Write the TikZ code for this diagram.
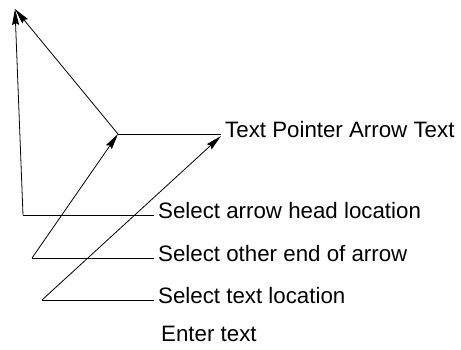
\documentclass[tikz,border=0pt]{standalone}
\usepackage{fontspec}
\setmainfont{Liberation Sans}
\usetikzlibrary{arrows.meta}
\begin{document}
\begin{tikzpicture}[x=1pt,y=-1pt,
  lbl/.style={anchor=west,inner xsep=4pt,inner ysep=0pt,text height=0.716em,text depth=0pt,font=\fontsize{22.3}{26}\selectfont},
  ln/.style={line width=0.8pt},
  arr/.style={ln,-{Stealth[length=16pt,width=7pt,inset=2pt]}}]
\useasboundingbox (0,0) rectangle (461,349);
\coordinate (tip) at (15,9);
\coordinate (a) at (23,215);
\coordinate (b) at (118,134);
\coordinate (c) at (32,258);
\coordinate (d) at (42,300);
\node[lbl] (tp) at (221,134) {Text Pointer Arrow Text};
\node[lbl] (l1) at (154,215) {Select arrow head location};
\node[lbl] (l2) at (154,258) {Select other end of arrow};
\node[lbl] (l3) at (154,300) {Select text location};
\node[lbl] (l4) at (157,338) {Enter text};
\draw[arr] (a) -- (tip);
\draw[arr] (b) -- (tip);
\draw[arr] (c) -- (b);
\draw[arr] (d) -- ([yshift=-2pt]tp.west);
\draw[ln] (b) -- (tp.west);
\draw[ln] (a) -- (l1.west);
\draw[ln] (c) -- (l2.west);
\draw[ln] (d) -- (l3.west);
\end{tikzpicture}
\end{document}
